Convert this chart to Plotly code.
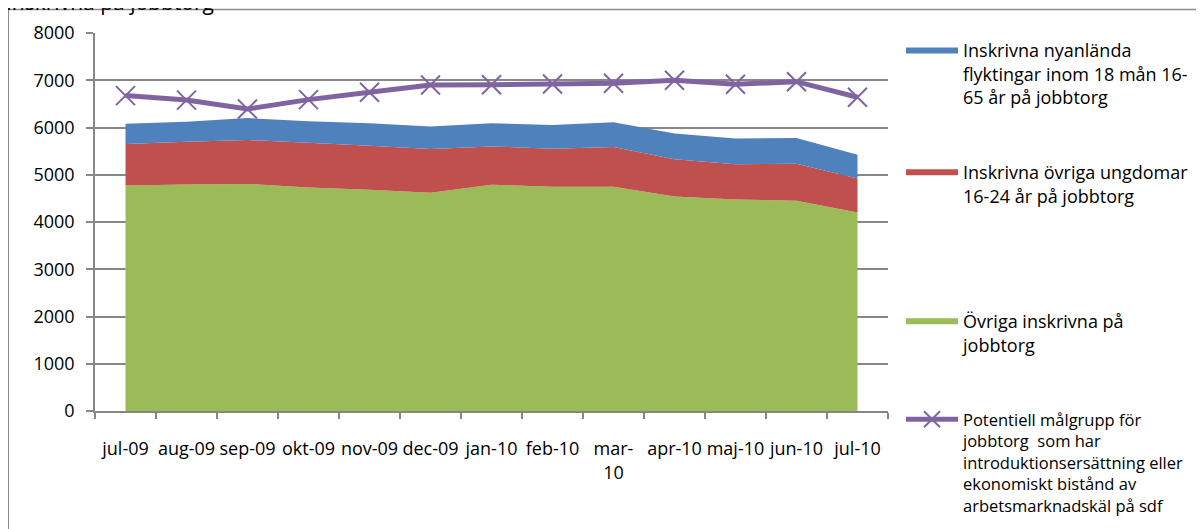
import plotly.graph_objects as go

months = ["jul-09", "aug-09", "sep-09", "okt-09", "nov-09", "dec-09", "jan-10",
          "feb-10", "mar-10", "apr-10", "maj-10", "jun-10", "jul-10"]
month_labels = ["jul-09", "aug-09", "sep-09", "okt-09", "nov-09", "dec-09", "jan-10",
                "feb-10", "mar-<br>10", "apr-10", "maj-10", "jun-10", "jul-10"]

ovriga = [4775, 4795, 4805, 4730, 4680, 4620, 4790, 4745, 4745, 4540, 4475, 4450, 4200]
ungdomar = [875, 905, 930, 945, 935, 925, 810, 805, 840, 790, 745, 785, 720]
flyktingar = [430, 420, 465, 455, 475, 475, 490, 505, 525, 545, 545, 545, 505]
potentiell = [6675, 6580, 6390, 6590, 6745, 6900, 6905, 6920, 6935, 7000, 6915, 6970, 6640]

name_fly = "Inskrivna nyanlända<br>flyktingar inom 18 mån 16-<br>65 år på jobbtorg"
name_ung = "Inskrivna övriga ungdomar<br>16-24 år på jobbtorg"
name_ovr = "Övriga inskrivna på<br>jobbtorg"
name_pot = ("Potentiell målgrupp för<br>jobbtorg  som har<br>introduktionsersättning eller"
            "<br>ekonomiskt bistånd av<br>arbetsmarknadskäl på sdf")

FONT = "Open Sans"
GRID = "#878787"

fig = go.Figure()
fig.add_trace(go.Scatter(x=months, y=ovriga, stackgroup="s", mode="none",
                         fillcolor="#9BBB59", name=name_ovr, legend="legend3"))
fig.add_trace(go.Scatter(x=months, y=ungdomar, stackgroup="s", mode="none",
                         fillcolor="#C0504D", name=name_ung, legend="legend2"))
fig.add_trace(go.Scatter(x=months, y=flyktingar, stackgroup="s", mode="none",
                         fillcolor="#4F81BD", name=name_fly, legend="legend"))
fig.add_trace(go.Scatter(x=months, y=potentiell, mode="lines+markers", name=name_pot,
                         line=dict(color="#8064A2", width=5),
                         marker=dict(symbol="x-thin", size=19,
                                     line=dict(color="#8064A2", width=2)),
                         legend="legend4"))

def leg(y, size=18):
    return dict(x=1.0164, y=y, xanchor="left", yanchor="top", valign="top",
                bgcolor="rgba(0,0,0,0)", itemwidth=52,
                font=dict(family=FONT, size=size, color="black"))

fig.update_layout(
    width=1196, height=521,
    margin=dict(l=87, r=316, t=25, b=118, autoexpand=False),
    paper_bgcolor="white", plot_bgcolor="white",
    hovermode=False, showlegend=True,
    font=dict(family=FONT, size=18, color="black"),
    legend=leg(1.002),
    legend2=leg(0.680),
    legend3=leg(0.2855),
    legend4=leg(0.0236, 16.5),
    xaxis=dict(type="category", range=[-0.5, 12.5], tickmode="array",
               tickvals=months, ticktext=month_labels, tickson="boundaries",
               ticks="outside", ticklen=6, tickcolor=GRID, tickwidth=1.5,
               showline=True, linecolor=GRID, linewidth=1.5, showgrid=False,
               ticklabelstandoff=21, tickangle=0,
               tickfont=dict(family=FONT, size=18, color="black")),
    yaxis=dict(range=[0, 8000], dtick=1000, tickmode="linear",
               ticks="outside", ticklen=7, tickcolor=GRID, tickwidth=1.5,
               showline=True, linecolor=GRID, linewidth=1.5,
               showgrid=True, gridcolor=GRID, gridwidth=1.5, zeroline=False,
               ticklabelstandoff=8,
               tickfont=dict(family=FONT, size=18, color="black")),
    shapes=[dict(type="rect", xref="paper", yref="paper",
                 x0=-0.1093, y0=-0.6, x1=1.6, y1=1.0622,
                 line=dict(color="#8C8C8C", width=1.5), fillcolor="rgba(0,0,0,0)",
                 layer="below")],
    annotations=[dict(text="Inskrivna på jobbtorg", xref="paper", yref="paper",
                      x=-0.1148, y=1.0407, xanchor="left", yanchor="bottom",
                      showarrow=False, font=dict(family=FONT, size=21, color="black"))],
)

fig.write_html("out.html")
